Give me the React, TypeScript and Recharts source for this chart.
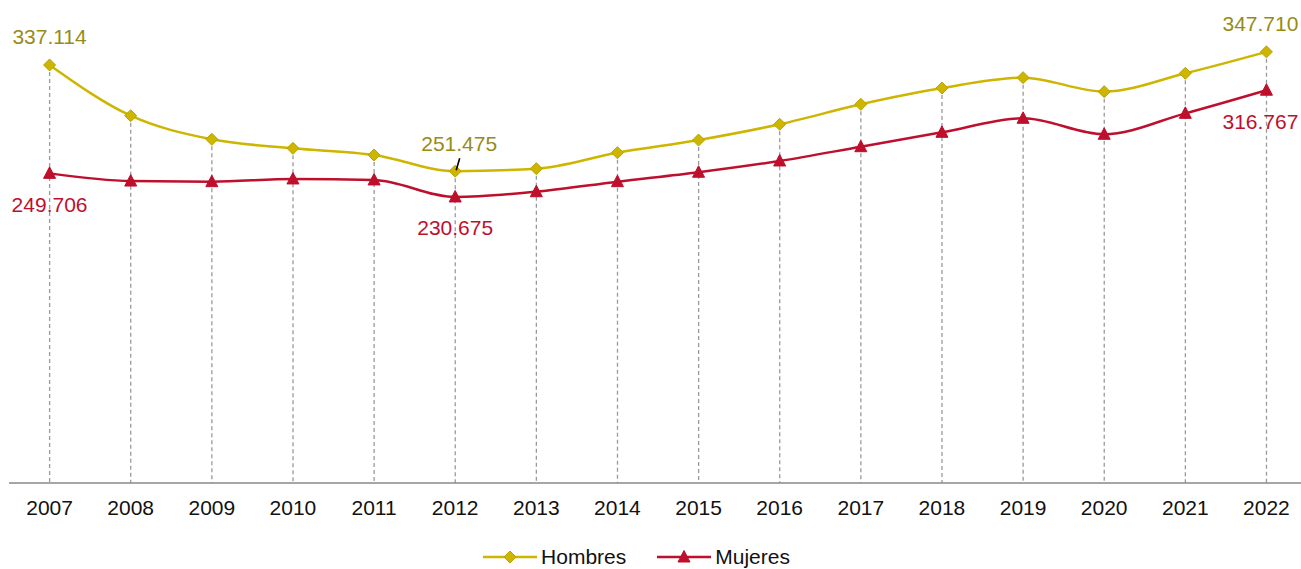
import React from 'react';
import { ComposedChart, Line, Bar, XAxis, YAxis, LabelList, Legend } from 'recharts';

const years = ['2007', '2008', '2009', '2010', '2011', '2012', '2013', '2014', '2015', '2016', '2017', '2018', '2019', '2020', '2021', '2022'];
const hombres = [337.114, 296.2, 277.2, 269.9, 264.5, 251.475, 253.5, 266.4, 276.6, 289.3, 305.4, 318.5, 326.9, 315.6, 330.4, 347.71];
const mujeres = [249.706, 243.5, 243.0, 245.2, 244.4, 230.675, 234.9, 243.0, 250.6, 259.7, 271.2, 282.8, 294.1, 281.2, 298.1, 316.767];
const labelledYears = [0, 5, 15];

const FONT = '"Liberation Sans", Arial, sans-serif';
const YELLOW = '#CDB500';
const YELLOW_TEXT = '#978B17';
const RED = '#BE0F2D';

const data = years.map((year, i) => ({ year, hombres: hombres[i], mujeres: mujeres[i] }));

const fmt = (v: number) => v.toFixed(3);

function Diamond({ cx, cy }: any) {
  if (cx == null || cy == null) return null;
  const r = 6;
  return <polygon points={`${cx},${cy - r} ${cx + r},${cy} ${cx},${cy + r} ${cx - r},${cy}`} fill={YELLOW} stroke="#B9A300" strokeWidth={1} />;
}

function Triangle({ cx, cy }: any) {
  if (cx == null || cy == null) return null;
  return <polygon points={`${cx},${cy - 6.5} ${cx + 6},${cy + 5} ${cx - 6},${cy + 5}`} fill={RED} stroke={RED} strokeWidth={1} />;
}

// dashed drop line from the Hombres point down to the axis
function DropLine({ x, y, width, height }: any) {
  const cx = x + width / 2;
  return <line x1={cx} y1={y} x2={cx} y2={y + height} stroke="#9a9a9a" strokeWidth={1.3} strokeDasharray="4 3" />;
}

function HombresLabel({ x, y, value, index }: any) {
  if (!labelledYears.includes(index)) return null;
  const tx = index === 15 ? x - 6 : index === 5 ? x + 4 : x;
  return (
    <g>
      {index === 5 && <line x1={x + 1} y1={y - 1} x2={x + 4.5} y2={y - 13} stroke="#000" strokeWidth={1.6} />}
      <text x={tx} y={y - 28 + 7.5} textAnchor="middle" fill={YELLOW_TEXT} fontSize={21} fontFamily={FONT}>
        {fmt(value)}
      </text>
    </g>
  );
}

function MujeresLabel({ x, y, value, index }: any) {
  if (!labelledYears.includes(index)) return null;
  const tx = index === 15 ? x - 6 : x;
  return (
    <text x={tx} y={y + 31 + 7.5} textAnchor="middle" fill={RED} fontSize={21} fontFamily={FONT}>
      {fmt(value)}
    </text>
  );
}

function LegendBox() {
  return (
    <div style={{ height: 24, display: 'flex', justifyContent: 'center', alignItems: 'center', paddingRight: 44, fontFamily: FONT, fontSize: 21, color: '#111' }}>
      <svg width={56} height={24}>
        <line x1={1} y1={12} x2={55} y2={12} stroke={YELLOW} strokeWidth={2.5} />
        <Diamond cx={28} cy={12} />
      </svg>
      <span style={{ marginLeft: 3, marginRight: 30 }}>Hombres</span>
      <svg width={56} height={24}>
        <line x1={1} y1={12} x2={55} y2={12} stroke={RED} strokeWidth={2.5} />
        <Triangle cx={28} cy={12} />
      </svg>
      <span style={{ marginLeft: 3 }}>Mujeres</span>
    </div>
  );
}

export default function App() {
  return (
    <div style={{ position: 'absolute', left: 0, top: 0, width: 1301, height: 569, overflow: 'hidden', background: '#fff' }}>
      <ComposedChart width={1310} height={569} data={data} margin={{ top: 49, right: 3, left: 9, bottom: 0 }}>
        <XAxis
          dataKey="year"
          height={62}
          tickLine={false}
          tickMargin={11}
          axisLine={{ stroke: '#888', strokeWidth: 1.5 }}
          tick={{ fill: '#111', fontSize: 21, fontFamily: FONT }}
          interval={0}
        />
        <YAxis hide domain={[0, 350]} />
        <Legend verticalAlign="bottom" content={() => <LegendBox />} />
        <Bar dataKey="hombres" shape={<DropLine />} legendType="none" isAnimationActive={false} />
        <Line
          type="monotone"
          dataKey="mujeres"
          name="Mujeres"
          stroke={RED}
          strokeWidth={2.5}
          dot={<Triangle />}
          activeDot={false}
          isAnimationActive={false}
        >
          <LabelList dataKey="mujeres" content={<MujeresLabel />} />
        </Line>
        <Line
          type="monotone"
          dataKey="hombres"
          name="Hombres"
          stroke={YELLOW}
          strokeWidth={2.5}
          dot={<Diamond />}
          activeDot={false}
          isAnimationActive={false}
        >
          <LabelList dataKey="hombres" content={<HombresLabel />} />
        </Line>
      </ComposedChart>
    </div>
  );
}
